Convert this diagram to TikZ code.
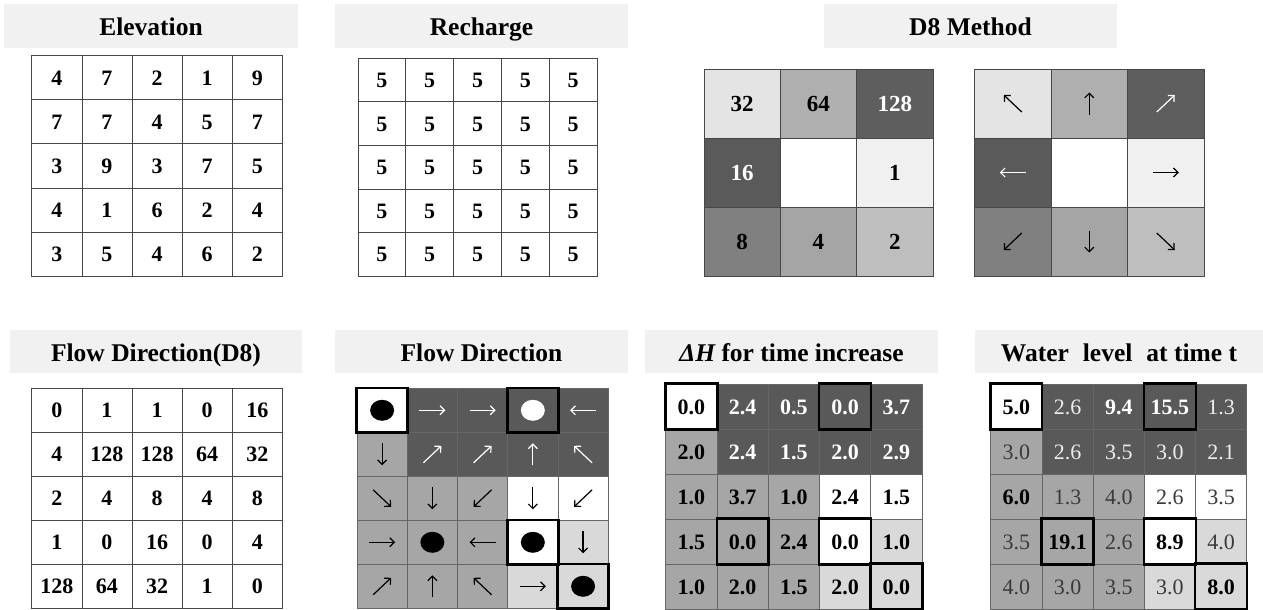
\documentclass[tikz,border=0pt]{standalone}
\usepackage{fontspec}
\setmainfont{Liberation Serif}
\usetikzlibrary{arrows.meta,shapes.geometric}
\definecolor{titlebg}{HTML}{F1F1F1}
\definecolor{dkc}{HTML}{595959}
\definecolor{mdc}{HTML}{A6A6A6}
\definecolor{ltc}{HTML}{D9D9D9}
\definecolor{gridc}{HTML}{474747}
\definecolor{gridd}{HTML}{666666}
\definecolor{dimtxt}{HTML}{3A3A3A}
\definecolor{paletxt}{HTML}{EDEDED}
\definecolor{dA}{HTML}{E4E4E4}
\definecolor{dB}{HTML}{AFAFAF}
\definecolor{dC}{HTML}{5E5E5E}
\definecolor{dD}{HTML}{5A5A5A}
\definecolor{dE}{HTML}{F0F0F0}
\definecolor{dF}{HTML}{808080}
\definecolor{dG}{HTML}{A5A5A5}
\definecolor{dH}{HTML}{BEBEBE}
% #1 name, #2 x0, #3 y0, #4 cell width, #5 cell height, #6 columns, #7 list style/text
\newcommand\mkgrid[7]{%
  \foreach \s/\v [count=\i from 0] in {#7} {%
    \pgfmathtruncatemacro\rr{floor(\i/#6)+1}%
    \pgfmathtruncatemacro\cc{mod(\i,#6)+1}%
    \node[\s, minimum width=#4pt, minimum height=#5pt] (#1-\rr-\cc) at ({#2+(\cc-0.5)*#4},{#3+(\rr-0.5)*#5}) {\v};
  }%
}
\begin{document}
\begin{tikzpicture}[x=1pt,y=-1pt,
  title/.style={fill=titlebg, inner sep=0pt, text height=24pt, text depth=5pt,
    font=\fontsize{25.5}{26}\selectfont\bfseries},
  cellbase/.style={inner sep=0pt, line width=0.7pt, text height=15pt, text depth=0pt,
    font=\fontsize{22}{22}\selectfont\bfseries},
  cellN/.style={cellbase, draw=gridc, fill=white},
  cellW/.style={cellbase, draw=gridd, fill=white},
  cellD/.style={cellbase, draw=gridd, fill=dkc, text=white},
  cellM/.style={cellbase, draw=gridd, fill=mdc},
  cellL/.style={cellbase, draw=gridd, fill=ltc},
  cellWn/.style={cellW, font=\fontsize{22}{22}\selectfont, text=dimtxt},
  cellDn/.style={cellD, font=\fontsize{22}{22}\selectfont, text=paletxt},
  cellMn/.style={cellM, font=\fontsize{22}{22}\selectfont, text=dimtxt},
  cellLn/.style={cellL, font=\fontsize{22}{22}\selectfont, text=dimtxt},
  dbase/.style={cellbase, draw=gridc, font=\fontsize{23}{23}\selectfont\bfseries},
  dk32/.style={dbase, fill=dA},
  dk64/.style={dbase, fill=dB},
  dk128/.style={dbase, fill=dC, text=white},
  dk16/.style={dbase, fill=dD, text=white},
  dk0/.style={dbase, fill=white},
  dk1/.style={dbase, fill=dE},
  dk8/.style={dbase, fill=dF},
  dk4/.style={dbase, fill=dG},
  dk2/.style={dbase, fill=dH},
  hlbox/.style={draw=black, line width=2.4pt},
  dotst/.style={ellipse, inner sep=0pt, minimum width=24pt, minimum height=21pt},
  arrowline/.style={line width=1.2pt, -{Straight Barb[length=4.5pt,width=9pt]}}
]
\useasboundingbox (0,0) rectangle (1263,610);

% ---- titles ----
\node[title, minimum width=294pt, minimum height=43.7pt] (tElev) at (151,25.85) {Elevation};
\node[title, minimum width=293pt, minimum height=43.7pt] (tRech) at (481.5,25.85) {Recharge};
\node[title, minimum width=293pt, minimum height=43.7pt] (tD8) at (970.5,25.85) {D8 Method};
\node[title, minimum width=292pt, minimum height=43pt] (tFD8) at (156,351.5) {Flow Direction(D8)};
\node[title, minimum width=293pt, minimum height=43pt] (tFD) at (481.5,351.5) {Flow Direction};
\node[title, minimum width=293pt, minimum height=43pt] (tDH) at (791.5,351.5) {{\itshape ΔH} for time increase};
\node[title, minimum width=288pt, minimum height=43pt] (tWL) at (1119,351.5) {Water\hspace{0.55em}level\hspace{0.55em}at time t};

% ---- Elevation ----
\mkgrid{el}{31.8}{55.7}{50.12}{44.06}{5}{cellN/4,cellN/7,cellN/2,cellN/1,cellN/9,
 cellN/7,cellN/7,cellN/4,cellN/5,cellN/7,
 cellN/3,cellN/9,cellN/3,cellN/7,cellN/5,
 cellN/4,cellN/1,cellN/6,cellN/2,cellN/4,
 cellN/3,cellN/5,cellN/4,cellN/6,cellN/2}

% ---- Recharge ----
\mkgrid{re}{358}{58.3}{47.8}{43.54}{5}{cellN/5,cellN/5,cellN/5,cellN/5,cellN/5,
 cellN/5,cellN/5,cellN/5,cellN/5,cellN/5,
 cellN/5,cellN/5,cellN/5,cellN/5,cellN/5,
 cellN/5,cellN/5,cellN/5,cellN/5,cellN/5,
 cellN/5,cellN/5,cellN/5,cellN/5,cellN/5}

% ---- D8 codes ----
\mkgrid{dn}{704}{69}{76.3}{69}{3}{dk32/32,dk64/64,dk128/128,
 dk16/16,dk0/{},dk1/1,
 dk8/8,dk4/4,dk2/2}

% ---- D8 arrows ----
\mkgrid{da}{974.5}{69}{76.5}{69}{3}{dk32/{},dk64/{},dk128/{},
 dk16/{},dk0/{},dk1/{},
 dk8/{},dk4/{},dk2/{}}

% ---- Flow Direction (D8) ----
\mkgrid{fc}{31.8}{388.3}{50.12}{44}{5}{cellN/0,cellN/1,cellN/1,cellN/0,cellN/16,
 cellN/4,cellN/128,cellN/128,cellN/64,cellN/32,
 cellN/2,cellN/4,cellN/8,cellN/4,cellN/8,
 cellN/1,cellN/0,cellN/16,cellN/0,cellN/4,
 cellN/128,cellN/64,cellN/32,cellN/1,cellN/0}

% ---- Flow Direction ----
\mkgrid{fd}{357}{388.3}{50.24}{44}{5}{cellW/{},cellD/{},cellD/{},cellD/{},cellD/{},
 cellM/{},cellD/{},cellD/{},cellD/{},cellD/{},
 cellM/{},cellM/{},cellM/{},cellW/{},cellW/{},
 cellM/{},cellM/{},cellM/{},cellW/{},cellL/{},
 cellM/{},cellM/{},cellM/{},cellL/{},cellL/{}}

% ---- Delta H ----
\mkgrid{dh}{665.8}{384}{51.24}{45}{5}{cellW/0.0,cellD/2.4,cellD/0.5,cellD/0.0,cellD/3.7,
 cellM/2.0,cellD/2.4,cellD/1.5,cellD/2.0,cellD/2.9,
 cellM/1.0,cellM/3.7,cellM/1.0,cellW/2.4,cellW/1.5,
 cellM/1.5,cellM/0.0,cellM/2.4,cellW/0.0,cellL/1.0,
 cellM/1.0,cellM/2.0,cellM/1.5,cellL/2.0,cellL/0.0}

% ---- Water level ----
\mkgrid{wl}{990.7}{384}{51.22}{45}{5}{cellW/5.0,cellDn/2.6,cellD/9.4,cellD/15.5,cellDn/1.3,
 cellMn/3.0,cellDn/2.6,cellDn/3.5,cellDn/3.0,cellDn/2.1,
 cellM/6.0,cellMn/1.3,cellMn/4.0,cellWn/2.6,cellWn/3.5,
 cellMn/3.5,cellM/19.1,cellMn/2.6,cellW/8.9,cellLn/4.0,
 cellMn/4.0,cellMn/3.0,cellMn/3.5,cellLn/3.0,cellL/8.0}

% ---- arrows ----
\foreach \n/\dx/\dy/\col in {
  da-1-1/-9/-8.5/black, da-1-2/0/-11/black, da-1-3/9/-8.5/white,
  da-2-1/-13/0/white, da-2-3/13/0/black,
  da-3-1/-9/8.5/black, da-3-2/0/11/black, da-3-3/9/8.5/black,
  fd-1-2/13/0/white, fd-1-3/13/0/white, fd-1-5/-13/0/white,
  fd-2-1/0/11/black, fd-2-2/9/-8.5/white, fd-2-3/9/-8.5/white, fd-2-4/0/-11/white, fd-2-5/-9/-8.5/white,
  fd-3-1/9/8.5/black, fd-3-2/0/11/black, fd-3-3/-9/8.5/black, fd-3-4/0/11/black, fd-3-5/-9/8.5/black,
  fd-4-1/13/0/black, fd-4-3/-13/0/black, fd-4-5/0/11/black,
  fd-5-1/9/-8.5/black, fd-5-2/0/-11/black, fd-5-3/-9/-8.5/black, fd-5-4/13/0/black} {
  \pgfmathsetmacro\tx{-(\dx)}
  \pgfmathsetmacro\ty{-(\dy)}
  \draw[arrowline, draw=\col] ([shift={(\tx,\ty)}]\n.center) -- ([shift={(\dx,\dy)}]\n.center);
}

% ---- sink dots ----
\foreach \n/\col in {fd-1-1/black, fd-1-4/white, fd-4-2/black, fd-4-4/black, fd-5-5/black}
  \node[dotst, fill=\col] (dot-\n) at (\n.center) {};

% ---- highlighted cells ----
\foreach \n in {fd-1-1, fd-1-4, fd-4-4, fd-5-5,
  dh-1-1, dh-1-4, dh-4-2, dh-4-4, dh-5-5,
  wl-1-1, wl-1-4, wl-4-2, wl-4-4, wl-5-5}
  \draw[hlbox] (\n.north west) rectangle (\n.south east);
\end{tikzpicture}
\end{document}
